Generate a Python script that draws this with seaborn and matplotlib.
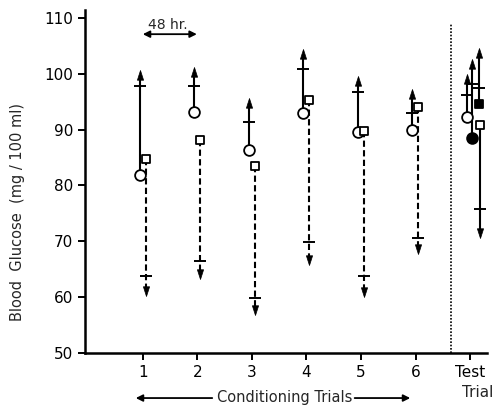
import matplotlib
matplotlib.use('Agg')
import matplotlib.pyplot as plt
from matplotlib.path import Path
import seaborn as sns
import pandas as pd

# conditioning trials: circles (solid, up) and squares (dashed, down)
trials = ['1', '2', '3', '4', '5', '6']
circle_mean = [81.9, 93.2, 86.3, 92.9, 89.5, 90.0]
circle_sd = [97.8, 97.9, 91.4, 100.8, 96.8, 92.9]
circle_tip = [100.7, 101.3, 95.7, 104.5, 99.6, 97.2]
square_mean = [84.8, 88.1, 83.5, 95.3, 89.8, 94.1]
square_sd = [63.8, 66.4, 59.9, 69.8, 63.7, 70.5]
square_tip = [60.1, 63.2, 56.7, 65.7, 60.0, 67.7]

# test trial
test_label = 'Test'
test_groups = ['open circle', 'filled circle', 'filled square', 'open square']
test_mean = [92.3, 88.5, 94.5, 90.9]
test_sd = [96.2, 98.2, 97.5, 75.7]
test_tip = [99.9, 102.6, 104.7, 70.6]

sns.set_theme(style='ticks')
plt.rcParams['font.family'] = ['DejaVu Sans']

fig = plt.figure(figsize=(4.97, 4.07), dpi=100)
ax = fig.add_axes([0.171, 0.133, 0.809, 0.842])

head_up = Path([(0, 0), (-0.32, -1), (0.32, -1), (0, 0)],
               [Path.MOVETO, Path.LINETO, Path.LINETO, Path.CLOSEPOLY])
head_down = Path([(0, 0), (-0.32, 1), (0.32, 1), (0, 0)],
                 [Path.MOVETO, Path.LINETO, Path.LINETO, Path.CLOSEPOLY])


def draw_bar(x, mean, sd, tip, ls):
    up = tip > mean
    end = tip - 1.0 if up else tip + 1.0
    ax.plot([x, x], [mean, end], color='black', lw=1.5, ls=ls,
            solid_capstyle='butt', zorder=2)
    ax.plot([x], [sd], marker='_', ms=9, mew=1.4, color='black', zorder=3)
    ax.plot([x], [tip], marker=head_up if up else head_down, ms=14,
            color='black', mec='black', mew=0.5, zorder=3)


xs = list(range(1, len(trials) + 1))
for i, x in enumerate(xs):
    draw_bar(x - 0.06, circle_mean[i], circle_sd[i], circle_tip[i], '-')
    draw_bar(x + 0.05, square_mean[i], square_sd[i], square_tip[i], (0, (3, 1.6)))

test_x = len(trials) + 1
test_pos = [test_x - 0.06, test_x + 0.04, test_x + 0.17, test_x + 0.18]
for i in range(len(test_groups)):
    draw_bar(test_pos[i], test_mean[i], test_sd[i], test_tip[i], '-')

df = pd.DataFrame({
    'x': [x - 0.06 for x in xs] + [x + 0.05 for x in xs] + test_pos,
    'y': circle_mean + square_mean + test_mean,
    'kind': ['open circle'] * 6 + ['open square'] * 6 + test_groups,
})
marker_map = {'open circle': ('o', 'white', 60), 'filled circle': ('o', 'black', 60),
              'open square': ('s', 'white', 38), 'filled square': ('s', 'black', 38)}
for kind, (mk, fc, s) in marker_map.items():
    sub = df[df['kind'] == kind]
    sns.scatterplot(data=sub, x='x', y='y', marker=mk, s=s, color=fc,
                    edgecolor='black', linewidth=1.3, zorder=4, ax=ax, legend=False)

# separator between conditioning and test
ax.axvline(6.65, ymin=0, ymax=0.96, color='black', lw=1.2, ls=(0, (1, 1)))

# 48 hr interval marker
ax.annotate('', xy=(1.0, 107.1), xytext=(1.99, 107.1),
            arrowprops=dict(arrowstyle='<|-|>', color='black', lw=1.3,
                            mutation_scale=10, shrinkA=0, shrinkB=0))
ax.text(1.45, 108.8, '48 hr.', ha='center', va='center', fontsize=10)

ax.set_xlim(-0.06, 7.31)
ax.set_ylim(50, 111.4)
ax.set_yticks([50, 60, 70, 80, 90, 100, 110])
ax.set_xticks(list(range(1, 8)))
ax.set_xticklabels(trials + [test_label])
ax.tick_params(labelsize=11, width=1.4, length=5, colors='black')
ax.set_xlabel('')
ax.set_ylabel('')
for s in ['left', 'bottom']:
    ax.spines[s].set_linewidth(1.8)
    ax.spines[s].set_color('black')
sns.despine(ax=ax)

fig.text(0.036, 0.479, 'Blood  Glucose  (mg / 100 ml)', rotation=90,
         ha='center', va='center', fontsize=10.5)
fig.text(0.962, 0.036, 'Trial', ha='center', va='center', fontsize=11)
fig.text(0.573, 0.024, 'Conditioning Trials', ha='center', va='center', fontsize=10.5)
for x0, x1 in [(0.4326, 0.2676), (0.708, 0.831)]:
    fig.add_artist(matplotlib.patches.FancyArrowPatch(
        (x0, 0.022), (x1, 0.022), transform=fig.transFigure,
        arrowstyle='-|>', mutation_scale=10, color='black', lw=1.3))

fig.savefig('out.png', dpi=100)
